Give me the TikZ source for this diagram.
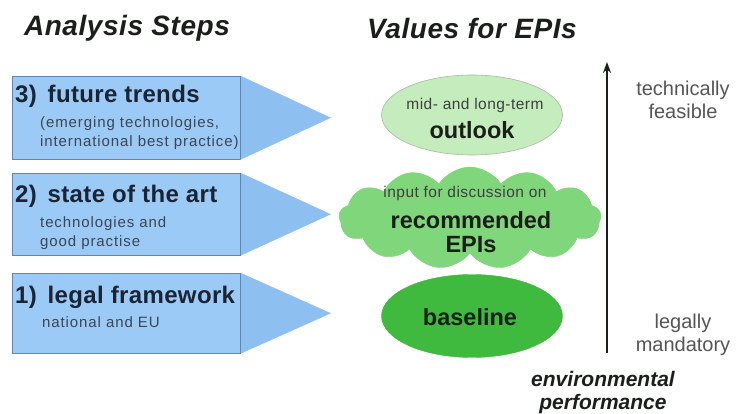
\documentclass[tikz,border=0pt]{standalone}
\usepackage{fontspec}
\setmainfont{Liberation Sans}
\usetikzlibrary{calc,shapes.symbols,shapes.geometric,arrows.meta}

\definecolor{stepblue}{HTML}{9CCAF7}
\definecolor{tipblue}{HTML}{8EBFF1}
\definecolor{stepedge}{HTML}{5F86B0}
\definecolor{navy}{HTML}{1B2433}
\definecolor{palegreen}{HTML}{C4ECBD}
\definecolor{paleedge}{HTML}{A2BE9E}
\definecolor{midgreen}{HTML}{80D67B}
\definecolor{deepgreen}{HTML}{40BA3E}
\definecolor{darkink}{HTML}{1A1F1A}
\definecolor{greytext}{HTML}{555555}

\tikzset{
  heading/.style={font=\fontsize{28}{31}\selectfont\bfseries\itshape\addfontfeature{LetterSpace=2},
                  text=darkink, inner sep=0},
  stepbox/.style={draw=stepedge, line width=0.5pt, fill=stepblue, minimum width=228pt,
                  inner sep=0, anchor=north west},
  steptip/.style={fill=tipblue, draw=tipblue, line width=0.3pt},
  steptitle/.style={font=\fontsize{24}{26}\selectfont\bfseries\addfontfeature{LetterSpace=1.5},
                    text=navy, anchor=base west, inner sep=0},
  stepnote/.style={font=\fontsize{15}{17}\selectfont\addfontfeature{LetterSpace=6},
                   text=navy!85, anchor=base west, inner sep=0},
  valuebig/.style={font=\fontsize{23.5}{26}\selectfont\bfseries, text=darkink, inner sep=0},
  valuesmall/.style={font=\fontsize{15.5}{18}\selectfont\addfontfeature{LetterSpace=3},
                     text=darkink!85, inner sep=0},
  sidetext/.style={font=\fontsize{20}{22}\selectfont, text=greytext, inner sep=0},
  axislabel/.style={font=\fontsize{21}{23}\selectfont\bfseries\itshape, text=darkink, inner sep=0},
}

\begin{document}
\begin{tikzpicture}[x=1pt,y=-1pt]
\useasboundingbox (0,0) rectangle (736,414);

% column headings
\node[heading] (hsteps) at (127,28) {Analysis Steps};
\node[heading] (hvalues) at (472,28) {Values for EPIs};

% analysis steps: box plus arrow tip
\node[stepbox, minimum height=83pt] (s3) at (12,76) {};
\node[stepbox, minimum height=82pt] (s2) at (12,173) {};
\node[stepbox, minimum height=80pt] (s1) at (12,273) {};
\foreach \s in {s1,s2,s3}{
  \fill[steptip] (\s.north east) -- ($(\s.east)+(90,0)$) -- (\s.south east) -- cycle;
  \draw[stepedge, line width=0.6pt] (\s.north east) -- (\s.south east);
}

\node[steptitle] (t3) at (15,103) {3)\hspace{0.45em}future trends};
\node[stepnote] (n3a) at (40,128) {(emerging technologies,};
\node[stepnote] (n3b) at (40,147) {international best practice)};

\node[steptitle] (t2) at (15,203) {2)\hspace{0.45em}state of the art};
\node[stepnote] (n2a) at (40,228) {technologies and};
\node[stepnote] (n2b) at (40,246) {good practise};

\node[steptitle] (t1) at (15,303) {1)\hspace{0.45em}legal framework};
\node[stepnote] (n1a) at (42,327) {national and EU};

% values for EPIs
\node[ellipse, draw=paleedge, line width=0.6pt, fill=palegreen,
      minimum width=181pt, minimum height=80pt, inner sep=0] (outlook) at (472,115) {};
\node[valuesmall] (outlooka) at (475,105) {mid- and long-term};
\node[valuebig] (outlookb) at (472,130) {outlook};

\node[cloud, cloud puffs=13, cloud puff arc=115, aspect=2.6, fill=midgreen, draw=midgreen,
      minimum width=262pt, minimum height=102pt, inner sep=0] (rec) at (470,218) {};
\node[valuesmall] (reca) at (465,193) {input for discussion on};
\node[valuebig] (recb) at (471,220) {recommended};
\node[valuebig] (recc) at (471,245) {EPIs};

\node[ellipse, fill=deepgreen, draw=deepgreen, minimum width=181pt, minimum height=83pt,
      inner sep=0] (base) at (472,316) {};
\node[valuebig] (baseb) at (470,317) {baseline};

% performance axis
\coordinate (axlow) at (607,353);
\coordinate (axhigh) at (607,62);
\draw[line width=2pt, darkink, -{Stealth[length=11pt, width=8pt]}] (axlow) -- (axhigh);

\node[sidetext, align=center] (feasible) at (683,100) {technically\\[1pt]feasible};
\node[sidetext, align=center] (mandatory) at (683,335) {legally\\[1pt]mandatory};
\node[axislabel, align=center] (perf) at (603,393) {environmental\\performance};
\end{tikzpicture}
\end{document}
